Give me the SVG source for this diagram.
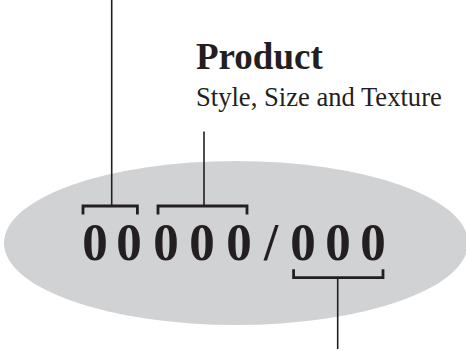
<svg xmlns="http://www.w3.org/2000/svg" width="466" height="350" viewBox="0 0 466 350">
<style>
.ln{stroke:#231f20;stroke-width:1.6;fill:none}
.br{stroke:#231f20;stroke-width:2.8;fill:none;stroke-linecap:butt;stroke-linejoin:miter}
.dg{font-family:"Liberation Serif","Times New Roman",serif;font-weight:bold;font-size:51px;fill:#231f20;text-anchor:middle}
.tt{font-family:"Liberation Serif","Times New Roman",serif;font-weight:bold;font-size:37px;fill:#231f20}
.st{font-family:"Liberation Serif","Times New Roman",serif;font-size:26.6px;fill:#231f20}
</style>
<g id="oval"><ellipse cx="236" cy="243" rx="232" ry="82" fill="#d1d2d4"/></g>
<g id="code"><text class="dg" x="95 129 166 202 239 271 303 338 373" y="259.5" transform="translate(0 -10) scale(1 1.04)">00000/000</text></g>
<g id="product"><text class="tt" x="196" y="69">Product</text><text class="st" x="196" y="106">Style, Size and Texture</text></g>
<g id="connectors">
<path class="ln" d="M111.7 0V205"/>
<path class="br" d="M83 214.5V206H137.4V214.5"/>
<path class="ln" d="M204 131.5V205"/>
<path class="br" d="M158 214.5V206H247V214.5"/>
<path class="br" d="M293.6 269.3V277.6H383V269.3"/>
<path class="ln" d="M337.7 279V349"/>
</g>
</svg>
